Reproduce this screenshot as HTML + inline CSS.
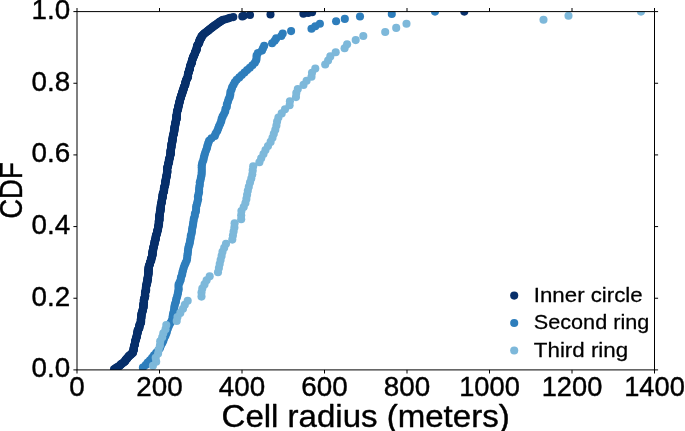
<!DOCTYPE html>
<html><head><meta charset="utf-8"><title>CDF of cell radius</title>
<style>
html,body{margin:0;padding:0;background:#fff;}
body{width:685px;height:431px;overflow:hidden;font-family:"Liberation Sans",sans-serif;}
svg{display:block;will-change:transform;}
text{font-family:"Liberation Sans",sans-serif;fill:#000;stroke:#000;stroke-linejoin:round;}
</style></head><body>
<svg width="685" height="431" viewBox="0 0 685 431">
<rect width="685" height="431" fill="#fff"/>
<defs><clipPath id="c"><rect x="77.00" y="11.60" width="577.50" height="358.30"/></clipPath></defs>
<g clip-path="url(#c)">
<g fill="#08306b"><circle cx="114.0" cy="369.2" r="4.05"/><circle cx="115.3" cy="368.5" r="4.05"/><circle cx="116.3" cy="367.8" r="4.05"/><circle cx="117.4" cy="367.1" r="4.05"/><circle cx="118.7" cy="366.5" r="4.05"/><circle cx="119.6" cy="365.8" r="4.05"/><circle cx="120.4" cy="365.1" r="4.05"/><circle cx="120.9" cy="364.4" r="4.05"/><circle cx="121.8" cy="363.7" r="4.05"/><circle cx="122.8" cy="363.0" r="4.05"/><circle cx="123.9" cy="362.3" r="4.05"/><circle cx="124.8" cy="361.6" r="4.05"/><circle cx="125.2" cy="360.9" r="4.05"/><circle cx="125.4" cy="360.3" r="4.05"/><circle cx="125.9" cy="359.6" r="4.05"/><circle cx="126.8" cy="358.9" r="4.05"/><circle cx="127.1" cy="358.2" r="4.05"/><circle cx="127.7" cy="357.5" r="4.05"/><circle cx="128.6" cy="356.8" r="4.05"/><circle cx="128.8" cy="356.1" r="4.05"/><circle cx="129.7" cy="355.4" r="4.05"/><circle cx="130.8" cy="354.7" r="4.05"/><circle cx="131.2" cy="354.1" r="4.05"/><circle cx="132.0" cy="353.4" r="4.05"/><circle cx="133.0" cy="352.7" r="4.05"/><circle cx="132.9" cy="352.0" r="4.05"/><circle cx="133.1" cy="351.3" r="4.05"/><circle cx="133.5" cy="350.6" r="4.05"/><circle cx="133.7" cy="349.9" r="4.05"/><circle cx="133.7" cy="349.2" r="4.05"/><circle cx="133.6" cy="348.5" r="4.05"/><circle cx="133.8" cy="347.9" r="4.05"/><circle cx="133.9" cy="347.2" r="4.05"/><circle cx="134.1" cy="346.5" r="4.05"/><circle cx="134.2" cy="345.8" r="4.05"/><circle cx="134.6" cy="345.1" r="4.05"/><circle cx="134.9" cy="344.4" r="4.05"/><circle cx="134.9" cy="343.7" r="4.05"/><circle cx="135.1" cy="343.0" r="4.05"/><circle cx="135.0" cy="342.3" r="4.05"/><circle cx="135.2" cy="341.6" r="4.05"/><circle cx="135.3" cy="341.0" r="4.05"/><circle cx="135.7" cy="340.3" r="4.05"/><circle cx="135.7" cy="339.6" r="4.05"/><circle cx="135.9" cy="338.9" r="4.05"/><circle cx="136.3" cy="338.2" r="4.05"/><circle cx="136.3" cy="337.5" r="4.05"/><circle cx="136.8" cy="336.8" r="4.05"/><circle cx="136.6" cy="336.1" r="4.05"/><circle cx="137.0" cy="335.4" r="4.05"/><circle cx="137.0" cy="334.8" r="4.05"/><circle cx="137.1" cy="334.1" r="4.05"/><circle cx="137.4" cy="333.4" r="4.05"/><circle cx="137.6" cy="332.7" r="4.05"/><circle cx="137.7" cy="332.0" r="4.05"/><circle cx="137.6" cy="331.3" r="4.05"/><circle cx="137.6" cy="330.6" r="4.05"/><circle cx="138.2" cy="329.9" r="4.05"/><circle cx="138.5" cy="329.2" r="4.05"/><circle cx="138.8" cy="328.6" r="4.05"/><circle cx="139.3" cy="327.9" r="4.05"/><circle cx="139.5" cy="327.2" r="4.05"/><circle cx="139.2" cy="326.5" r="4.05"/><circle cx="139.3" cy="325.8" r="4.05"/><circle cx="139.6" cy="325.1" r="4.05"/><circle cx="139.7" cy="324.4" r="4.05"/><circle cx="140.3" cy="323.7" r="4.05"/><circle cx="140.7" cy="323.0" r="4.05"/><circle cx="141.0" cy="322.4" r="4.05"/><circle cx="140.9" cy="321.7" r="4.05"/><circle cx="141.2" cy="321.0" r="4.05"/><circle cx="140.8" cy="320.3" r="4.05"/><circle cx="140.8" cy="319.6" r="4.05"/><circle cx="141.0" cy="318.9" r="4.05"/><circle cx="141.3" cy="318.2" r="4.05"/><circle cx="141.4" cy="317.5" r="4.05"/><circle cx="141.2" cy="316.8" r="4.05"/><circle cx="141.3" cy="316.2" r="4.05"/><circle cx="141.4" cy="315.5" r="4.05"/><circle cx="141.5" cy="314.8" r="4.05"/><circle cx="141.5" cy="314.1" r="4.05"/><circle cx="141.7" cy="313.4" r="4.05"/><circle cx="141.9" cy="312.7" r="4.05"/><circle cx="142.3" cy="312.0" r="4.05"/><circle cx="142.6" cy="311.3" r="4.05"/><circle cx="142.6" cy="310.6" r="4.05"/><circle cx="142.6" cy="310.0" r="4.05"/><circle cx="142.9" cy="309.3" r="4.05"/><circle cx="143.2" cy="308.6" r="4.05"/><circle cx="143.2" cy="307.9" r="4.05"/><circle cx="143.4" cy="307.2" r="4.05"/><circle cx="143.7" cy="306.5" r="4.05"/><circle cx="143.2" cy="305.8" r="4.05"/><circle cx="143.6" cy="305.1" r="4.05"/><circle cx="143.4" cy="304.4" r="4.05"/><circle cx="143.5" cy="303.8" r="4.05"/><circle cx="143.9" cy="303.1" r="4.05"/><circle cx="144.0" cy="302.4" r="4.05"/><circle cx="143.8" cy="301.7" r="4.05"/><circle cx="144.0" cy="301.0" r="4.05"/><circle cx="143.8" cy="300.3" r="4.05"/><circle cx="143.9" cy="299.6" r="4.05"/><circle cx="144.4" cy="298.9" r="4.05"/><circle cx="144.4" cy="298.2" r="4.05"/><circle cx="144.6" cy="297.6" r="4.05"/><circle cx="144.9" cy="296.9" r="4.05"/><circle cx="145.1" cy="296.2" r="4.05"/><circle cx="145.3" cy="295.5" r="4.05"/><circle cx="144.9" cy="294.8" r="4.05"/><circle cx="145.0" cy="294.1" r="4.05"/><circle cx="145.1" cy="293.4" r="4.05"/><circle cx="145.0" cy="292.7" r="4.05"/><circle cx="145.3" cy="292.0" r="4.05"/><circle cx="145.5" cy="291.3" r="4.05"/><circle cx="145.9" cy="290.7" r="4.05"/><circle cx="146.2" cy="290.0" r="4.05"/><circle cx="145.9" cy="289.3" r="4.05"/><circle cx="145.8" cy="288.6" r="4.05"/><circle cx="146.1" cy="287.9" r="4.05"/><circle cx="146.0" cy="287.2" r="4.05"/><circle cx="146.0" cy="286.5" r="4.05"/><circle cx="146.3" cy="285.8" r="4.05"/><circle cx="146.3" cy="285.1" r="4.05"/><circle cx="146.7" cy="284.5" r="4.05"/><circle cx="147.1" cy="283.8" r="4.05"/><circle cx="146.7" cy="283.1" r="4.05"/><circle cx="146.9" cy="282.4" r="4.05"/><circle cx="147.3" cy="281.7" r="4.05"/><circle cx="147.7" cy="281.0" r="4.05"/><circle cx="147.4" cy="280.3" r="4.05"/><circle cx="147.3" cy="279.6" r="4.05"/><circle cx="147.7" cy="278.9" r="4.05"/><circle cx="148.0" cy="278.3" r="4.05"/><circle cx="147.7" cy="277.6" r="4.05"/><circle cx="147.8" cy="276.9" r="4.05"/><circle cx="148.1" cy="276.2" r="4.05"/><circle cx="148.3" cy="275.5" r="4.05"/><circle cx="148.1" cy="274.8" r="4.05"/><circle cx="148.3" cy="274.1" r="4.05"/><circle cx="148.6" cy="273.4" r="4.05"/><circle cx="148.6" cy="272.7" r="4.05"/><circle cx="148.4" cy="272.1" r="4.05"/><circle cx="148.2" cy="271.4" r="4.05"/><circle cx="148.3" cy="270.7" r="4.05"/><circle cx="148.8" cy="270.0" r="4.05"/><circle cx="148.6" cy="269.3" r="4.05"/><circle cx="148.5" cy="268.6" r="4.05"/><circle cx="148.7" cy="267.9" r="4.05"/><circle cx="148.7" cy="267.2" r="4.05"/><circle cx="148.9" cy="266.5" r="4.05"/><circle cx="148.9" cy="265.9" r="4.05"/><circle cx="149.4" cy="265.2" r="4.05"/><circle cx="149.8" cy="264.5" r="4.05"/><circle cx="149.9" cy="263.8" r="4.05"/><circle cx="149.9" cy="263.1" r="4.05"/><circle cx="150.1" cy="262.4" r="4.05"/><circle cx="150.4" cy="261.7" r="4.05"/><circle cx="150.9" cy="261.0" r="4.05"/><circle cx="151.3" cy="260.3" r="4.05"/><circle cx="151.1" cy="259.7" r="4.05"/><circle cx="150.9" cy="259.0" r="4.05"/><circle cx="151.4" cy="258.3" r="4.05"/><circle cx="151.8" cy="257.6" r="4.05"/><circle cx="151.8" cy="256.9" r="4.05"/><circle cx="152.1" cy="256.2" r="4.05"/><circle cx="152.4" cy="255.5" r="4.05"/><circle cx="152.4" cy="254.8" r="4.05"/><circle cx="152.7" cy="254.1" r="4.05"/><circle cx="152.4" cy="253.5" r="4.05"/><circle cx="152.4" cy="252.8" r="4.05"/><circle cx="152.5" cy="252.1" r="4.05"/><circle cx="152.5" cy="251.4" r="4.05"/><circle cx="153.1" cy="250.7" r="4.05"/><circle cx="152.9" cy="250.0" r="4.05"/><circle cx="153.3" cy="249.3" r="4.05"/><circle cx="153.2" cy="248.6" r="4.05"/><circle cx="153.3" cy="247.9" r="4.05"/><circle cx="153.6" cy="247.3" r="4.05"/><circle cx="153.6" cy="246.6" r="4.05"/><circle cx="153.9" cy="245.9" r="4.05"/><circle cx="154.1" cy="245.2" r="4.05"/><circle cx="154.2" cy="244.5" r="4.05"/><circle cx="154.6" cy="243.8" r="4.05"/><circle cx="154.5" cy="243.1" r="4.05"/><circle cx="154.5" cy="242.4" r="4.05"/><circle cx="154.7" cy="241.7" r="4.05"/><circle cx="154.9" cy="241.0" r="4.05"/><circle cx="154.9" cy="240.4" r="4.05"/><circle cx="155.5" cy="239.7" r="4.05"/><circle cx="155.8" cy="239.0" r="4.05"/><circle cx="155.6" cy="238.3" r="4.05"/><circle cx="155.7" cy="237.6" r="4.05"/><circle cx="155.7" cy="236.9" r="4.05"/><circle cx="156.0" cy="236.2" r="4.05"/><circle cx="156.0" cy="235.5" r="4.05"/><circle cx="156.3" cy="234.8" r="4.05"/><circle cx="156.8" cy="234.2" r="4.05"/><circle cx="156.8" cy="233.5" r="4.05"/><circle cx="157.0" cy="232.8" r="4.05"/><circle cx="157.2" cy="232.1" r="4.05"/><circle cx="157.5" cy="231.4" r="4.05"/><circle cx="157.2" cy="230.7" r="4.05"/><circle cx="157.6" cy="230.0" r="4.05"/><circle cx="158.0" cy="229.3" r="4.05"/><circle cx="158.1" cy="228.6" r="4.05"/><circle cx="158.0" cy="228.0" r="4.05"/><circle cx="158.2" cy="227.3" r="4.05"/><circle cx="158.4" cy="226.6" r="4.05"/><circle cx="158.6" cy="225.9" r="4.05"/><circle cx="158.3" cy="225.2" r="4.05"/><circle cx="158.8" cy="224.5" r="4.05"/><circle cx="159.1" cy="223.8" r="4.05"/><circle cx="158.9" cy="223.1" r="4.05"/><circle cx="159.0" cy="222.4" r="4.05"/><circle cx="158.6" cy="221.8" r="4.05"/><circle cx="159.1" cy="221.1" r="4.05"/><circle cx="159.4" cy="220.4" r="4.05"/><circle cx="159.4" cy="219.7" r="4.05"/><circle cx="159.6" cy="219.0" r="4.05"/><circle cx="159.3" cy="218.3" r="4.05"/><circle cx="159.2" cy="217.6" r="4.05"/><circle cx="159.2" cy="216.9" r="4.05"/><circle cx="159.5" cy="216.2" r="4.05"/><circle cx="159.3" cy="215.6" r="4.05"/><circle cx="159.8" cy="214.9" r="4.05"/><circle cx="159.8" cy="214.2" r="4.05"/><circle cx="159.9" cy="213.5" r="4.05"/><circle cx="159.7" cy="212.8" r="4.05"/><circle cx="160.0" cy="212.1" r="4.05"/><circle cx="160.4" cy="211.4" r="4.05"/><circle cx="160.5" cy="210.7" r="4.05"/><circle cx="160.3" cy="210.0" r="4.05"/><circle cx="160.6" cy="209.4" r="4.05"/><circle cx="160.4" cy="208.7" r="4.05"/><circle cx="160.8" cy="208.0" r="4.05"/><circle cx="160.8" cy="207.3" r="4.05"/><circle cx="160.7" cy="206.6" r="4.05"/><circle cx="160.8" cy="205.9" r="4.05"/><circle cx="161.0" cy="205.2" r="4.05"/><circle cx="160.9" cy="204.5" r="4.05"/><circle cx="161.3" cy="203.8" r="4.05"/><circle cx="161.3" cy="203.2" r="4.05"/><circle cx="161.7" cy="202.5" r="4.05"/><circle cx="161.9" cy="201.8" r="4.05"/><circle cx="161.6" cy="201.1" r="4.05"/><circle cx="161.9" cy="200.4" r="4.05"/><circle cx="161.9" cy="199.7" r="4.05"/><circle cx="162.2" cy="199.0" r="4.05"/><circle cx="162.3" cy="198.3" r="4.05"/><circle cx="162.4" cy="197.6" r="4.05"/><circle cx="162.8" cy="197.0" r="4.05"/><circle cx="162.5" cy="196.3" r="4.05"/><circle cx="162.7" cy="195.6" r="4.05"/><circle cx="162.8" cy="194.9" r="4.05"/><circle cx="162.6" cy="194.2" r="4.05"/><circle cx="163.1" cy="193.5" r="4.05"/><circle cx="163.3" cy="192.8" r="4.05"/><circle cx="163.7" cy="192.1" r="4.05"/><circle cx="163.8" cy="191.4" r="4.05"/><circle cx="163.8" cy="190.8" r="4.05"/><circle cx="164.2" cy="190.1" r="4.05"/><circle cx="164.0" cy="189.4" r="4.05"/><circle cx="163.8" cy="188.7" r="4.05"/><circle cx="164.2" cy="188.0" r="4.05"/><circle cx="164.3" cy="187.3" r="4.05"/><circle cx="164.4" cy="186.6" r="4.05"/><circle cx="164.9" cy="185.9" r="4.05"/><circle cx="164.8" cy="185.2" r="4.05"/><circle cx="165.2" cy="184.5" r="4.05"/><circle cx="165.4" cy="183.9" r="4.05"/><circle cx="165.3" cy="183.2" r="4.05"/><circle cx="165.1" cy="182.5" r="4.05"/><circle cx="165.2" cy="181.8" r="4.05"/><circle cx="165.8" cy="181.1" r="4.05"/><circle cx="165.8" cy="180.4" r="4.05"/><circle cx="165.7" cy="179.7" r="4.05"/><circle cx="165.8" cy="179.0" r="4.05"/><circle cx="166.3" cy="178.3" r="4.05"/><circle cx="166.1" cy="177.7" r="4.05"/><circle cx="166.5" cy="177.0" r="4.05"/><circle cx="166.3" cy="176.3" r="4.05"/><circle cx="166.8" cy="175.6" r="4.05"/><circle cx="166.9" cy="174.9" r="4.05"/><circle cx="166.6" cy="174.2" r="4.05"/><circle cx="167.1" cy="173.5" r="4.05"/><circle cx="167.1" cy="172.8" r="4.05"/><circle cx="167.3" cy="172.1" r="4.05"/><circle cx="167.4" cy="171.5" r="4.05"/><circle cx="167.2" cy="170.8" r="4.05"/><circle cx="167.1" cy="170.1" r="4.05"/><circle cx="167.1" cy="169.4" r="4.05"/><circle cx="167.2" cy="168.7" r="4.05"/><circle cx="167.2" cy="168.0" r="4.05"/><circle cx="167.3" cy="167.3" r="4.05"/><circle cx="168.0" cy="166.6" r="4.05"/><circle cx="167.9" cy="165.9" r="4.05"/><circle cx="168.1" cy="165.3" r="4.05"/><circle cx="168.0" cy="164.6" r="4.05"/><circle cx="168.1" cy="163.9" r="4.05"/><circle cx="168.6" cy="163.2" r="4.05"/><circle cx="169.0" cy="162.5" r="4.05"/><circle cx="169.0" cy="161.8" r="4.05"/><circle cx="168.7" cy="161.1" r="4.05"/><circle cx="169.3" cy="160.4" r="4.05"/><circle cx="169.0" cy="159.7" r="4.05"/><circle cx="169.1" cy="159.1" r="4.05"/><circle cx="169.4" cy="158.4" r="4.05"/><circle cx="169.8" cy="157.7" r="4.05"/><circle cx="170.0" cy="157.0" r="4.05"/><circle cx="170.1" cy="156.3" r="4.05"/><circle cx="170.0" cy="155.6" r="4.05"/><circle cx="170.3" cy="154.9" r="4.05"/><circle cx="170.6" cy="154.2" r="4.05"/><circle cx="170.8" cy="153.5" r="4.05"/><circle cx="170.8" cy="152.9" r="4.05"/><circle cx="170.5" cy="152.2" r="4.05"/><circle cx="170.4" cy="151.5" r="4.05"/><circle cx="170.6" cy="150.8" r="4.05"/><circle cx="170.7" cy="150.1" r="4.05"/><circle cx="171.1" cy="149.4" r="4.05"/><circle cx="171.0" cy="148.7" r="4.05"/><circle cx="171.2" cy="148.0" r="4.05"/><circle cx="171.2" cy="147.3" r="4.05"/><circle cx="171.6" cy="146.7" r="4.05"/><circle cx="171.4" cy="146.0" r="4.05"/><circle cx="171.5" cy="145.3" r="4.05"/><circle cx="171.4" cy="144.6" r="4.05"/><circle cx="171.5" cy="143.9" r="4.05"/><circle cx="172.0" cy="143.2" r="4.05"/><circle cx="172.0" cy="142.5" r="4.05"/><circle cx="172.4" cy="141.8" r="4.05"/><circle cx="172.5" cy="141.1" r="4.05"/><circle cx="172.2" cy="140.5" r="4.05"/><circle cx="172.6" cy="139.8" r="4.05"/><circle cx="172.4" cy="139.1" r="4.05"/><circle cx="172.9" cy="138.4" r="4.05"/><circle cx="172.6" cy="137.7" r="4.05"/><circle cx="173.0" cy="137.0" r="4.05"/><circle cx="172.9" cy="136.3" r="4.05"/><circle cx="173.0" cy="135.6" r="4.05"/><circle cx="173.5" cy="134.9" r="4.05"/><circle cx="173.6" cy="134.2" r="4.05"/><circle cx="173.8" cy="133.6" r="4.05"/><circle cx="174.0" cy="132.9" r="4.05"/><circle cx="173.7" cy="132.2" r="4.05"/><circle cx="174.1" cy="131.5" r="4.05"/><circle cx="174.5" cy="130.8" r="4.05"/><circle cx="174.2" cy="130.1" r="4.05"/><circle cx="174.4" cy="129.4" r="4.05"/><circle cx="174.3" cy="128.7" r="4.05"/><circle cx="174.7" cy="128.0" r="4.05"/><circle cx="174.4" cy="127.4" r="4.05"/><circle cx="174.6" cy="126.7" r="4.05"/><circle cx="175.0" cy="126.0" r="4.05"/><circle cx="175.3" cy="125.3" r="4.05"/><circle cx="175.0" cy="124.6" r="4.05"/><circle cx="175.4" cy="123.9" r="4.05"/><circle cx="175.3" cy="123.2" r="4.05"/><circle cx="175.7" cy="122.5" r="4.05"/><circle cx="175.8" cy="121.8" r="4.05"/><circle cx="175.6" cy="121.2" r="4.05"/><circle cx="176.0" cy="120.5" r="4.05"/><circle cx="176.3" cy="119.8" r="4.05"/><circle cx="176.4" cy="119.1" r="4.05"/><circle cx="176.8" cy="118.4" r="4.05"/><circle cx="176.5" cy="117.7" r="4.05"/><circle cx="176.4" cy="117.0" r="4.05"/><circle cx="176.3" cy="116.3" r="4.05"/><circle cx="176.6" cy="115.6" r="4.05"/><circle cx="176.7" cy="115.0" r="4.05"/><circle cx="176.8" cy="114.3" r="4.05"/><circle cx="177.0" cy="113.6" r="4.05"/><circle cx="177.0" cy="112.9" r="4.05"/><circle cx="176.9" cy="112.2" r="4.05"/><circle cx="177.2" cy="111.5" r="4.05"/><circle cx="177.3" cy="110.8" r="4.05"/><circle cx="177.5" cy="110.1" r="4.05"/><circle cx="178.0" cy="109.4" r="4.05"/><circle cx="177.9" cy="108.8" r="4.05"/><circle cx="178.1" cy="108.1" r="4.05"/><circle cx="178.4" cy="107.4" r="4.05"/><circle cx="178.3" cy="106.7" r="4.05"/><circle cx="178.4" cy="106.0" r="4.05"/><circle cx="178.9" cy="105.3" r="4.05"/><circle cx="178.8" cy="104.6" r="4.05"/><circle cx="179.1" cy="103.9" r="4.05"/><circle cx="179.3" cy="103.2" r="4.05"/><circle cx="179.2" cy="102.6" r="4.05"/><circle cx="179.6" cy="101.9" r="4.05"/><circle cx="179.7" cy="101.2" r="4.05"/><circle cx="179.8" cy="100.5" r="4.05"/><circle cx="180.1" cy="99.8" r="4.05"/><circle cx="180.2" cy="99.1" r="4.05"/><circle cx="180.5" cy="98.4" r="4.05"/><circle cx="180.5" cy="97.7" r="4.05"/><circle cx="181.0" cy="97.0" r="4.05"/><circle cx="181.2" cy="96.4" r="4.05"/><circle cx="181.1" cy="95.7" r="4.05"/><circle cx="181.4" cy="95.0" r="4.05"/><circle cx="181.9" cy="94.3" r="4.05"/><circle cx="182.2" cy="93.6" r="4.05"/><circle cx="182.3" cy="92.9" r="4.05"/><circle cx="182.4" cy="92.2" r="4.05"/><circle cx="182.5" cy="91.5" r="4.05"/><circle cx="183.1" cy="90.8" r="4.05"/><circle cx="182.9" cy="90.2" r="4.05"/><circle cx="183.4" cy="89.5" r="4.05"/><circle cx="183.8" cy="88.8" r="4.05"/><circle cx="183.7" cy="88.1" r="4.05"/><circle cx="183.8" cy="87.4" r="4.05"/><circle cx="184.1" cy="86.7" r="4.05"/><circle cx="184.6" cy="86.0" r="4.05"/><circle cx="185.0" cy="85.3" r="4.05"/><circle cx="185.4" cy="84.6" r="4.05"/><circle cx="185.2" cy="83.9" r="4.05"/><circle cx="185.2" cy="83.3" r="4.05"/><circle cx="185.4" cy="82.6" r="4.05"/><circle cx="185.7" cy="81.9" r="4.05"/><circle cx="186.0" cy="81.2" r="4.05"/><circle cx="185.9" cy="80.5" r="4.05"/><circle cx="186.3" cy="79.8" r="4.05"/><circle cx="186.8" cy="79.1" r="4.05"/><circle cx="187.2" cy="78.4" r="4.05"/><circle cx="187.5" cy="77.7" r="4.05"/><circle cx="187.8" cy="77.1" r="4.05"/><circle cx="188.1" cy="76.4" r="4.05"/><circle cx="187.7" cy="75.7" r="4.05"/><circle cx="188.1" cy="75.0" r="4.05"/><circle cx="188.0" cy="74.3" r="4.05"/><circle cx="188.1" cy="73.6" r="4.05"/><circle cx="188.3" cy="72.9" r="4.05"/><circle cx="188.8" cy="72.2" r="4.05"/><circle cx="189.0" cy="71.5" r="4.05"/><circle cx="189.0" cy="70.9" r="4.05"/><circle cx="189.1" cy="70.2" r="4.05"/><circle cx="189.6" cy="69.5" r="4.05"/><circle cx="190.0" cy="68.8" r="4.05"/><circle cx="189.8" cy="68.1" r="4.05"/><circle cx="189.9" cy="67.4" r="4.05"/><circle cx="190.1" cy="66.7" r="4.05"/><circle cx="190.2" cy="66.0" r="4.05"/><circle cx="190.6" cy="65.3" r="4.05"/><circle cx="190.6" cy="64.7" r="4.05"/><circle cx="191.0" cy="64.0" r="4.05"/><circle cx="191.6" cy="63.3" r="4.05"/><circle cx="192.0" cy="62.6" r="4.05"/><circle cx="191.7" cy="61.9" r="4.05"/><circle cx="191.8" cy="61.2" r="4.05"/><circle cx="192.0" cy="60.5" r="4.05"/><circle cx="192.4" cy="59.8" r="4.05"/><circle cx="192.6" cy="59.1" r="4.05"/><circle cx="192.7" cy="58.5" r="4.05"/><circle cx="192.9" cy="57.8" r="4.05"/><circle cx="193.0" cy="57.1" r="4.05"/><circle cx="193.7" cy="56.4" r="4.05"/><circle cx="194.1" cy="55.7" r="4.05"/><circle cx="194.2" cy="55.0" r="4.05"/><circle cx="194.6" cy="54.3" r="4.05"/><circle cx="194.8" cy="53.6" r="4.05"/><circle cx="195.0" cy="52.9" r="4.05"/><circle cx="195.2" cy="52.3" r="4.05"/><circle cx="195.4" cy="51.6" r="4.05"/><circle cx="196.0" cy="50.9" r="4.05"/><circle cx="196.4" cy="50.2" r="4.05"/><circle cx="196.7" cy="49.5" r="4.05"/><circle cx="196.5" cy="48.8" r="4.05"/><circle cx="196.8" cy="48.1" r="4.05"/><circle cx="196.9" cy="47.4" r="4.05"/><circle cx="196.9" cy="46.7" r="4.05"/><circle cx="197.3" cy="46.1" r="4.05"/><circle cx="197.4" cy="45.4" r="4.05"/><circle cx="197.7" cy="44.7" r="4.05"/><circle cx="198.4" cy="44.0" r="4.05"/><circle cx="198.9" cy="43.3" r="4.05"/><circle cx="199.3" cy="42.6" r="4.05"/><circle cx="199.3" cy="41.9" r="4.05"/><circle cx="199.4" cy="41.2" r="4.05"/><circle cx="199.5" cy="40.5" r="4.05"/><circle cx="199.8" cy="39.9" r="4.05"/><circle cx="200.0" cy="39.2" r="4.05"/><circle cx="200.9" cy="38.5" r="4.05"/><circle cx="201.5" cy="37.8" r="4.05"/><circle cx="201.4" cy="37.1" r="4.05"/><circle cx="201.5" cy="36.4" r="4.05"/><circle cx="202.2" cy="35.7" r="4.05"/><circle cx="202.9" cy="35.0" r="4.05"/><circle cx="203.5" cy="34.3" r="4.05"/><circle cx="204.3" cy="33.6" r="4.05"/><circle cx="205.0" cy="33.0" r="4.05"/><circle cx="206.0" cy="32.3" r="4.05"/><circle cx="207.0" cy="31.6" r="4.05"/><circle cx="207.8" cy="30.9" r="4.05"/><circle cx="208.8" cy="30.2" r="4.05"/><circle cx="209.3" cy="29.5" r="4.05"/><circle cx="210.3" cy="28.8" r="4.05"/><circle cx="211.5" cy="28.1" r="4.05"/><circle cx="212.1" cy="27.4" r="4.05"/><circle cx="213.0" cy="26.8" r="4.05"/><circle cx="214.0" cy="26.1" r="4.05"/><circle cx="214.7" cy="25.4" r="4.05"/><circle cx="216.0" cy="24.7" r="4.05"/><circle cx="216.8" cy="24.0" r="4.05"/><circle cx="217.7" cy="23.3" r="4.05"/><circle cx="219.0" cy="22.6" r="4.05"/><circle cx="219.6" cy="21.9" r="4.05"/><circle cx="221.0" cy="21.2" r="4.05"/><circle cx="221.7" cy="20.6" r="4.05"/><circle cx="223.0" cy="19.9" r="4.05"/><circle cx="225.5" cy="19.2" r="4.05"/><circle cx="228.0" cy="18.5" r="4.05"/><circle cx="230.0" cy="17.8" r="4.05"/><circle cx="233.3" cy="17.1" r="4.05"/><circle cx="242.3" cy="16.4" r="4.05"/><circle cx="243.7" cy="15.7" r="4.05"/><circle cx="250.0" cy="15.0" r="4.05"/><circle cx="270.5" cy="14.4" r="4.05"/><circle cx="303.4" cy="13.7" r="4.05"/><circle cx="308.2" cy="13.0" r="4.05"/><circle cx="312.1" cy="12.3" r="4.05"/><circle cx="464.3" cy="11.6" r="4.05"/></g>
<g fill="#2e7ebc"><circle cx="142.9" cy="367.5" r="4.05"/><circle cx="145.7" cy="365.0" r="4.05"/><circle cx="147.7" cy="362.6" r="4.05"/><circle cx="150.0" cy="360.2" r="4.05"/><circle cx="152.1" cy="357.7" r="4.05"/><circle cx="154.0" cy="355.3" r="4.05"/><circle cx="156.2" cy="352.8" r="4.05"/><circle cx="158.4" cy="350.4" r="4.05"/><circle cx="160.0" cy="348.0" r="4.05"/><circle cx="160.9" cy="345.5" r="4.05"/><circle cx="162.3" cy="343.1" r="4.05"/><circle cx="163.3" cy="340.7" r="4.05"/><circle cx="164.1" cy="338.2" r="4.05"/><circle cx="165.4" cy="335.8" r="4.05"/><circle cx="166.4" cy="333.3" r="4.05"/><circle cx="167.0" cy="330.9" r="4.05"/><circle cx="167.9" cy="328.5" r="4.05"/><circle cx="168.9" cy="326.0" r="4.05"/><circle cx="170.1" cy="323.6" r="4.05"/><circle cx="171.5" cy="321.2" r="4.05"/><circle cx="172.5" cy="318.7" r="4.05"/><circle cx="172.7" cy="316.3" r="4.05"/><circle cx="173.1" cy="313.8" r="4.05"/><circle cx="173.8" cy="311.4" r="4.05"/><circle cx="174.2" cy="309.0" r="4.05"/><circle cx="174.4" cy="306.5" r="4.05"/><circle cx="175.0" cy="304.1" r="4.05"/><circle cx="175.9" cy="301.7" r="4.05"/><circle cx="176.2" cy="299.2" r="4.05"/><circle cx="177.1" cy="296.8" r="4.05"/><circle cx="177.7" cy="294.3" r="4.05"/><circle cx="178.1" cy="291.9" r="4.05"/><circle cx="178.7" cy="289.5" r="4.05"/><circle cx="178.5" cy="287.0" r="4.05"/><circle cx="178.6" cy="284.6" r="4.05"/><circle cx="179.7" cy="282.2" r="4.05"/><circle cx="180.7" cy="279.7" r="4.05"/><circle cx="181.0" cy="277.3" r="4.05"/><circle cx="182.1" cy="274.8" r="4.05"/><circle cx="182.4" cy="272.4" r="4.05"/><circle cx="183.1" cy="270.0" r="4.05"/><circle cx="183.8" cy="267.5" r="4.05"/><circle cx="184.7" cy="265.1" r="4.05"/><circle cx="185.7" cy="262.7" r="4.05"/><circle cx="186.8" cy="260.2" r="4.05"/><circle cx="187.2" cy="257.8" r="4.05"/><circle cx="187.4" cy="255.3" r="4.05"/><circle cx="187.8" cy="252.9" r="4.05"/><circle cx="188.0" cy="250.5" r="4.05"/><circle cx="188.3" cy="248.0" r="4.05"/><circle cx="189.0" cy="245.6" r="4.05"/><circle cx="189.7" cy="243.2" r="4.05"/><circle cx="190.1" cy="240.7" r="4.05"/><circle cx="190.6" cy="238.3" r="4.05"/><circle cx="190.8" cy="235.8" r="4.05"/><circle cx="191.6" cy="233.4" r="4.05"/><circle cx="192.0" cy="231.0" r="4.05"/><circle cx="192.2" cy="228.5" r="4.05"/><circle cx="192.8" cy="226.1" r="4.05"/><circle cx="193.1" cy="223.7" r="4.05"/><circle cx="193.5" cy="221.2" r="4.05"/><circle cx="193.8" cy="218.8" r="4.05"/><circle cx="194.7" cy="216.3" r="4.05"/><circle cx="194.9" cy="213.9" r="4.05"/><circle cx="195.9" cy="211.5" r="4.05"/><circle cx="196.1" cy="209.0" r="4.05"/><circle cx="196.2" cy="206.6" r="4.05"/><circle cx="196.9" cy="204.2" r="4.05"/><circle cx="197.5" cy="201.7" r="4.05"/><circle cx="198.1" cy="199.3" r="4.05"/><circle cx="197.9" cy="196.8" r="4.05"/><circle cx="198.5" cy="194.4" r="4.05"/><circle cx="199.1" cy="192.0" r="4.05"/><circle cx="199.1" cy="189.5" r="4.05"/><circle cx="199.3" cy="187.1" r="4.05"/><circle cx="199.8" cy="184.7" r="4.05"/><circle cx="199.8" cy="182.2" r="4.05"/><circle cx="200.6" cy="179.8" r="4.05"/><circle cx="201.0" cy="177.3" r="4.05"/><circle cx="201.6" cy="174.9" r="4.05"/><circle cx="201.7" cy="172.5" r="4.05"/><circle cx="201.8" cy="170.0" r="4.05"/><circle cx="201.7" cy="167.6" r="4.05"/><circle cx="201.8" cy="165.2" r="4.05"/><circle cx="202.3" cy="162.7" r="4.05"/><circle cx="203.3" cy="160.3" r="4.05"/><circle cx="203.8" cy="157.8" r="4.05"/><circle cx="204.4" cy="155.4" r="4.05"/><circle cx="205.1" cy="153.0" r="4.05"/><circle cx="206.0" cy="150.5" r="4.05"/><circle cx="207.0" cy="148.1" r="4.05"/><circle cx="207.4" cy="145.7" r="4.05"/><circle cx="208.2" cy="143.2" r="4.05"/><circle cx="209.1" cy="140.8" r="4.05"/><circle cx="211.5" cy="138.3" r="4.05"/><circle cx="214.8" cy="135.9" r="4.05"/><circle cx="215.7" cy="133.5" r="4.05"/><circle cx="217.2" cy="131.0" r="4.05"/><circle cx="218.2" cy="128.6" r="4.05"/><circle cx="219.0" cy="126.2" r="4.05"/><circle cx="220.2" cy="123.7" r="4.05"/><circle cx="221.2" cy="121.3" r="4.05"/><circle cx="221.7" cy="118.8" r="4.05"/><circle cx="222.7" cy="116.4" r="4.05"/><circle cx="224.0" cy="114.0" r="4.05"/><circle cx="225.2" cy="111.5" r="4.05"/><circle cx="225.5" cy="109.1" r="4.05"/><circle cx="226.8" cy="106.7" r="4.05"/><circle cx="226.9" cy="104.2" r="4.05"/><circle cx="227.9" cy="101.8" r="4.05"/><circle cx="228.6" cy="99.3" r="4.05"/><circle cx="229.7" cy="96.9" r="4.05"/><circle cx="230.3" cy="94.5" r="4.05"/><circle cx="230.4" cy="92.0" r="4.05"/><circle cx="231.5" cy="89.6" r="4.05"/><circle cx="232.1" cy="87.2" r="4.05"/><circle cx="233.5" cy="84.7" r="4.05"/><circle cx="234.8" cy="82.3" r="4.05"/><circle cx="236.7" cy="79.8" r="4.05"/><circle cx="239.3" cy="77.4" r="4.05"/><circle cx="241.8" cy="75.0" r="4.05"/><circle cx="244.5" cy="72.5" r="4.05"/><circle cx="247.1" cy="70.1" r="4.05"/><circle cx="249.8" cy="67.7" r="4.05"/><circle cx="252.4" cy="65.2" r="4.05"/><circle cx="254.8" cy="62.8" r="4.05"/><circle cx="256.2" cy="60.3" r="4.05"/><circle cx="256.6" cy="57.9" r="4.05"/><circle cx="256.6" cy="55.5" r="4.05"/><circle cx="257.9" cy="53.0" r="4.05"/><circle cx="262.0" cy="50.6" r="4.05"/><circle cx="263.0" cy="48.2" r="4.05"/><circle cx="264.2" cy="45.7" r="4.05"/><circle cx="272.1" cy="43.3" r="4.05"/><circle cx="274.7" cy="40.8" r="4.05"/><circle cx="276.2" cy="38.4" r="4.05"/><circle cx="281.3" cy="36.0" r="4.05"/><circle cx="282.7" cy="33.5" r="4.05"/><circle cx="291.1" cy="31.1" r="4.05"/><circle cx="311.5" cy="28.7" r="4.05"/><circle cx="315.3" cy="26.2" r="4.05"/><circle cx="319.9" cy="23.8" r="4.05"/><circle cx="336.1" cy="21.3" r="4.05"/><circle cx="344.8" cy="18.9" r="4.05"/><circle cx="360.0" cy="16.5" r="4.05"/><circle cx="391.8" cy="14.0" r="4.05"/><circle cx="435.0" cy="11.6" r="4.05"/></g>
<g fill="#7db8da"><circle cx="152.9" cy="365.8" r="4.05"/><circle cx="156.2" cy="361.8" r="4.05"/><circle cx="155.7" cy="357.7" r="4.05"/><circle cx="158.1" cy="353.6" r="4.05"/><circle cx="158.7" cy="349.5" r="4.05"/><circle cx="159.9" cy="345.5" r="4.05"/><circle cx="160.2" cy="341.4" r="4.05"/><circle cx="162.2" cy="337.3" r="4.05"/><circle cx="163.3" cy="333.3" r="4.05"/><circle cx="165.5" cy="329.2" r="4.05"/><circle cx="166.3" cy="325.1" r="4.05"/><circle cx="176.7" cy="321.0" r="4.05"/><circle cx="177.5" cy="317.0" r="4.05"/><circle cx="180.3" cy="312.9" r="4.05"/><circle cx="183.0" cy="308.8" r="4.05"/><circle cx="184.8" cy="304.8" r="4.05"/><circle cx="187.7" cy="300.7" r="4.05"/><circle cx="201.5" cy="296.6" r="4.05"/><circle cx="201.5" cy="292.5" r="4.05"/><circle cx="202.3" cy="288.5" r="4.05"/><circle cx="204.5" cy="284.4" r="4.05"/><circle cx="206.6" cy="280.3" r="4.05"/><circle cx="209.7" cy="276.3" r="4.05"/><circle cx="218.0" cy="272.2" r="4.05"/><circle cx="218.9" cy="268.1" r="4.05"/><circle cx="219.7" cy="264.0" r="4.05"/><circle cx="220.6" cy="260.0" r="4.05"/><circle cx="221.6" cy="255.9" r="4.05"/><circle cx="222.5" cy="251.8" r="4.05"/><circle cx="224.2" cy="247.8" r="4.05"/><circle cx="226.0" cy="243.7" r="4.05"/><circle cx="232.3" cy="239.6" r="4.05"/><circle cx="232.9" cy="235.5" r="4.05"/><circle cx="233.6" cy="231.5" r="4.05"/><circle cx="234.4" cy="227.4" r="4.05"/><circle cx="234.6" cy="223.3" r="4.05"/><circle cx="241.2" cy="219.3" r="4.05"/><circle cx="241.2" cy="215.2" r="4.05"/><circle cx="241.4" cy="211.1" r="4.05"/><circle cx="243.7" cy="207.0" r="4.05"/><circle cx="245.4" cy="203.0" r="4.05"/><circle cx="246.4" cy="198.9" r="4.05"/><circle cx="247.1" cy="194.8" r="4.05"/><circle cx="247.8" cy="190.8" r="4.05"/><circle cx="248.8" cy="186.7" r="4.05"/><circle cx="250.0" cy="182.6" r="4.05"/><circle cx="251.3" cy="178.5" r="4.05"/><circle cx="252.3" cy="174.5" r="4.05"/><circle cx="252.7" cy="170.4" r="4.05"/><circle cx="253.2" cy="166.3" r="4.05"/><circle cx="259.4" cy="162.2" r="4.05"/><circle cx="261.2" cy="158.2" r="4.05"/><circle cx="263.5" cy="154.1" r="4.05"/><circle cx="265.5" cy="150.0" r="4.05"/><circle cx="268.0" cy="146.0" r="4.05"/><circle cx="270.6" cy="141.9" r="4.05"/><circle cx="272.5" cy="137.8" r="4.05"/><circle cx="273.8" cy="133.7" r="4.05"/><circle cx="275.3" cy="129.7" r="4.05"/><circle cx="276.4" cy="125.6" r="4.05"/><circle cx="277.1" cy="121.5" r="4.05"/><circle cx="278.4" cy="117.5" r="4.05"/><circle cx="281.7" cy="113.4" r="4.05"/><circle cx="285.0" cy="109.3" r="4.05"/><circle cx="289.6" cy="105.2" r="4.05"/><circle cx="289.9" cy="101.2" r="4.05"/><circle cx="296.0" cy="97.1" r="4.05"/><circle cx="296.3" cy="93.0" r="4.05"/><circle cx="297.8" cy="89.0" r="4.05"/><circle cx="303.5" cy="84.9" r="4.05"/><circle cx="306.6" cy="80.8" r="4.05"/><circle cx="311.5" cy="76.7" r="4.05"/><circle cx="312.0" cy="72.7" r="4.05"/><circle cx="315.3" cy="68.6" r="4.05"/><circle cx="325.2" cy="64.5" r="4.05"/><circle cx="328.1" cy="60.5" r="4.05"/><circle cx="330.3" cy="56.4" r="4.05"/><circle cx="335.7" cy="52.3" r="4.05"/><circle cx="344.6" cy="48.2" r="4.05"/><circle cx="347.1" cy="44.2" r="4.05"/><circle cx="355.7" cy="40.1" r="4.05"/><circle cx="363.3" cy="36.0" r="4.05"/><circle cx="385.2" cy="32.0" r="4.05"/><circle cx="396.2" cy="27.9" r="4.05"/><circle cx="406.5" cy="23.8" r="4.05"/><circle cx="543.5" cy="19.7" r="4.05"/><circle cx="568.5" cy="15.7" r="4.05"/><circle cx="641.0" cy="11.6" r="4.05"/></g>
</g>
<g stroke="#000" stroke-width="1" fill="none">
<rect x="77.00" y="11.60" width="577.50" height="358.30"/>
<path d="M77.00 369.90v3.60 M77.00 11.60v-3.60"/><path d="M159.50 369.90v3.60 M159.50 11.60v-3.60"/><path d="M242.00 369.90v3.60 M242.00 11.60v-3.60"/><path d="M324.50 369.90v3.60 M324.50 11.60v-3.60"/><path d="M407.00 369.90v3.60 M407.00 11.60v-3.60"/><path d="M489.50 369.90v3.60 M489.50 11.60v-3.60"/><path d="M572.00 369.90v3.60 M572.00 11.60v-3.60"/><path d="M654.50 369.90v3.60 M654.50 11.60v-3.60"/><path d="M77.00 369.90h-3.60 M654.50 369.90h3.60"/><path d="M77.00 298.24h-3.60 M654.50 298.24h3.60"/><path d="M77.00 226.58h-3.60 M654.50 226.58h3.60"/><path d="M77.00 154.92h-3.60 M654.50 154.92h3.60"/><path d="M77.00 83.26h-3.60 M654.50 83.26h3.60"/><path d="M77.00 11.60h-3.60 M654.50 11.60h3.60"/>
</g>
<circle cx="514.2" cy="295.6" r="4.05" fill="#08306b"/><circle cx="514.2" cy="323.0" r="4.05" fill="#2e7ebc"/><circle cx="514.2" cy="350.5" r="4.05" fill="#7db8da"/>
<text transform="translate(77.00,396.40) scale(1.0300,1)" font-size="27.00" text-anchor="middle" stroke-width="0.40">0</text>
<text transform="translate(159.50,396.40) scale(1.0300,1)" font-size="27.00" text-anchor="middle" stroke-width="0.40">200</text>
<text transform="translate(242.00,396.40) scale(1.0300,1)" font-size="27.00" text-anchor="middle" stroke-width="0.40">400</text>
<text transform="translate(324.50,396.40) scale(1.0300,1)" font-size="27.00" text-anchor="middle" stroke-width="0.40">600</text>
<text transform="translate(407.00,396.40) scale(1.0300,1)" font-size="27.00" text-anchor="middle" stroke-width="0.40">800</text>
<text transform="translate(489.50,396.40) scale(1.0094,1)" font-size="27.00" text-anchor="middle" stroke-width="0.40">1000</text>
<text transform="translate(572.00,396.40) scale(1.0094,1)" font-size="27.00" text-anchor="middle" stroke-width="0.40">1200</text>
<text transform="translate(654.50,396.40) scale(1.0094,1)" font-size="27.00" text-anchor="middle" stroke-width="0.40">1400</text>
<text transform="translate(70.20,377.20) scale(1.0300,1)" font-size="27.00" text-anchor="end" stroke-width="0.40">0.0</text>
<text transform="translate(70.20,305.54) scale(1.0300,1)" font-size="27.00" text-anchor="end" stroke-width="0.40">0.2</text>
<text transform="translate(70.20,233.88) scale(1.0300,1)" font-size="27.00" text-anchor="end" stroke-width="0.40">0.4</text>
<text transform="translate(70.20,162.22) scale(1.0300,1)" font-size="27.00" text-anchor="end" stroke-width="0.40">0.6</text>
<text transform="translate(70.20,90.56) scale(1.0300,1)" font-size="27.00" text-anchor="end" stroke-width="0.40">0.8</text>
<text transform="translate(70.20,18.90) scale(1.0300,1)" font-size="27.00" text-anchor="end" stroke-width="0.40">1.0</text>
<text transform="translate(365.60,426.90) scale(1.0490,1)" font-size="31.50" text-anchor="middle" stroke-width="0.40">Cell radius (meters)</text>
<text transform="translate(21.80,190.50) rotate(-90) scale(0.9000,1)" font-size="30.60" text-anchor="middle" stroke-width="0.40">CDF</text>
<text transform="translate(533.80,301.60) scale(1.1030,1)" font-size="20.20" text-anchor="start" stroke-width="0.25">Inner circle</text>
<text transform="translate(533.80,329.40) scale(1.0720,1)" font-size="20.20" text-anchor="start" stroke-width="0.25">Second ring</text>
<text transform="translate(533.80,357.20) scale(1.1070,1)" font-size="20.20" text-anchor="start" stroke-width="0.25">Third ring</text>

</svg>
</body></html>
